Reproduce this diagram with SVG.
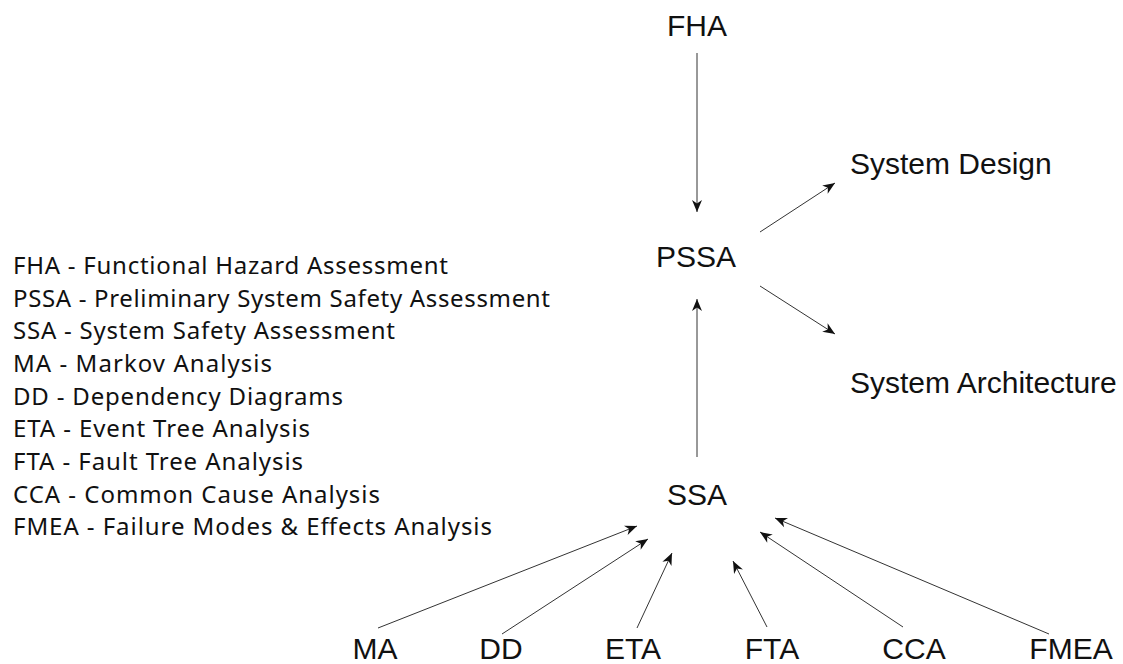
<svg xmlns="http://www.w3.org/2000/svg" width="1123" height="664" viewBox="0 0 1123 664">
<style>
.lbl{font-family:"Liberation Sans",Arial,sans-serif;font-size:30px;fill:#111;}
.leg{font-family:"Noto Sans","Open Sans",sans-serif;font-size:24px;fill:#111;}
.c{stroke:#333;stroke-width:1;fill:none;marker-end:url(#ah);}
</style>
<defs>
<marker id="ah" markerUnits="userSpaceOnUse" viewBox="-13 -6 14 12" refX="0" refY="0" markerWidth="14" markerHeight="12" orient="auto">
<path d="M0,0 L-12,-5 L-8.5,0 L-12,5 Z" fill="#111"/>
</marker>
</defs>
<rect width="1123" height="664" fill="#fff"/>
<g id="legend">
<text class="leg" x="13" y="274" textLength="435">FHA - Functional Hazard Assessment</text>
<text class="leg" x="13" y="307" textLength="537">PSSA - Preliminary System Safety Assessment</text>
<text class="leg" x="13" y="339" textLength="382">SSA - System Safety Assessment</text>
<text class="leg" x="13" y="372" textLength="259">MA - Markov Analysis</text>
<text class="leg" x="13" y="405" textLength="330">DD - Dependency Diagrams</text>
<text class="leg" x="13" y="437" textLength="297">ETA - Event Tree Analysis</text>
<text class="leg" x="13" y="470" textLength="290">FTA - Fault Tree Analysis</text>
<text class="leg" x="13" y="503" textLength="367">CCA - Common Cause Analysis</text>
<text class="leg" x="13" y="535" textLength="479">FMEA - Failure Modes &amp; Effects Analysis</text>
</g>
<g id="FHA"><text class="lbl" x="697" y="36" text-anchor="middle">FHA</text></g>
<g id="PSSA"><text class="lbl" x="696" y="267" text-anchor="middle">PSSA</text></g>
<g id="SystemDesign"><text class="lbl" x="850" y="174">System Design</text></g>
<g id="SystemArchitecture"><text class="lbl" x="850" y="393">System Architecture</text></g>
<g id="SSA"><text class="lbl" x="697" y="505" text-anchor="middle">SSA</text></g>
<g id="MA"><text class="lbl" x="375" y="659" text-anchor="middle">MA</text></g>
<g id="DD"><text class="lbl" x="501" y="659" text-anchor="middle">DD</text></g>
<g id="ETA"><text class="lbl" x="633" y="659" text-anchor="middle">ETA</text></g>
<g id="FTA"><text class="lbl" x="772" y="659" text-anchor="middle">FTA</text></g>
<g id="CCA"><text class="lbl" x="914" y="659" text-anchor="middle">CCA</text></g>
<g id="FMEA"><text class="lbl" x="1071" y="659" text-anchor="middle">FMEA</text></g>
<g id="connectors">
<line class="c" x1="697" y1="53" x2="697" y2="212"/>
<line class="c" x1="760" y1="232" x2="835" y2="183"/>
<line class="c" x1="760" y1="286" x2="835" y2="334"/>
<line class="c" x1="697" y1="457" x2="697" y2="299"/>
<line class="c" x1="378" y1="628" x2="637" y2="526"/>
<line class="c" x1="502" y1="634" x2="648" y2="539"/>
<line class="c" x1="637" y1="628" x2="672" y2="553"/>
<line class="c" x1="767" y1="627" x2="733" y2="561"/>
<line class="c" x1="903" y1="627" x2="760" y2="532"/>
<line class="c" x1="1049" y1="634" x2="775" y2="518"/>
</g>
</svg>
